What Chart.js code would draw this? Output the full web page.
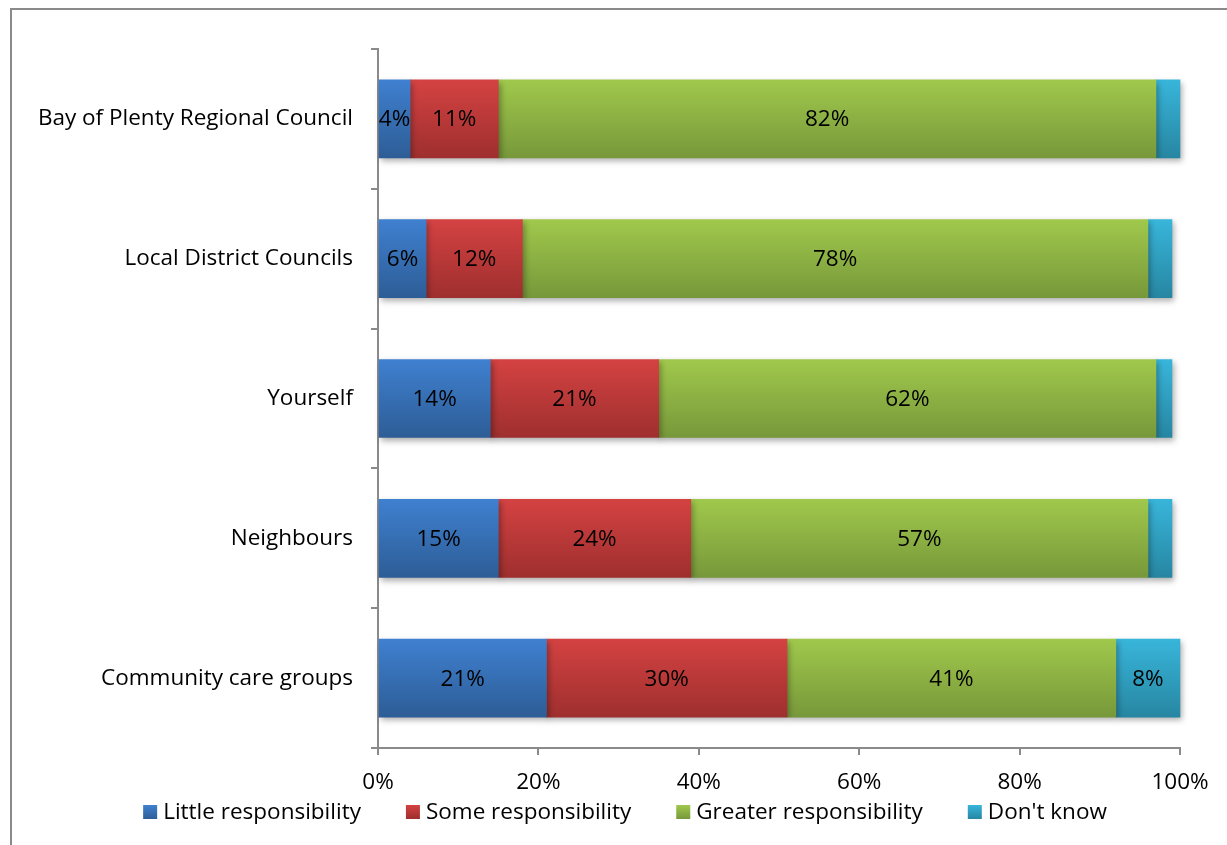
<!DOCTYPE html>
<html>
<head>
<meta charset="utf-8">
<script src="https://cdn.jsdelivr.net/npm/chart.js@4.4.1/dist/chart.umd.min.js"></script>
<style>
  html, body { margin: 0; padding: 0; background: #ffffff; }
  #wrap { width: 1227px; height: 845px; }
</style>
</head>
<body>
<div id="wrap"><canvas id="chart" width="1227" height="845"></canvas></div>
<script>
// Who should take responsibility, by group (percent of respondents)
const categories = [
  'Bay of Plenty Regional Council',
  'Local District Councils',
  'Yourself',
  'Neighbours',
  'Community care groups'
];
const seriesNames = ['Little responsibility', 'Some responsibility', 'Greater responsibility', "Don't know"];
const little   = [4, 6, 14, 15, 21];
const some     = [11, 12, 21, 24, 30];
const greater  = [82, 78, 62, 57, 41];
const dontKnow = [3, 3, 2, 3, 8];
const xTickStep = 20;

// top / bottom shades of each series gradient
const shades = [
  ['#3f80d0', '#2d5d96'],
  ['#d44242', '#9e2f2e'],
  ['#a0c84c', '#77983a'],
  ['#38b5da', '#2786a2']
];

const FONT = '"Open Sans", Lato, sans-serif';
const FS = 22.5;
const BAR = 78;

function barGradient(ctx, series) {
  const chart = ctx.chart;
  const y = chart.scales && chart.scales.y;
  if (!y || ctx.dataIndex === undefined || !chart.chartArea) return shades[series][0];
  const c = y.getPixelForValue(ctx.dataIndex);
  const g = chart.ctx.createLinearGradient(0, c - BAR / 2, 0, c + BAR / 2);
  g.addColorStop(0, shades[series][0]);
  g.addColorStop(1, shades[series][1]);
  return g;
}

const values = [little, some, greater, dontKnow];
const datasets = values.map((arr, i) => ({
  label: seriesNames[i],
  data: arr,
  backgroundColor: (ctx) => barGradient(ctx, i),
  borderWidth: 0,
  barThickness: BAR,
  clip: false
}));

// outer frame of the chart object
const framePlugin = {
  id: 'frame',
  beforeDraw(chart) {
    const c = chart.ctx;
    c.save();
    c.fillStyle = '#ffffff';
    c.fillRect(0, 0, chart.width, chart.height);
    c.strokeStyle = '#8a8a8a';
    c.lineWidth = 2;
    c.beginPath();
    c.moveTo(11, chart.height);
    c.lineTo(11, 9);
    c.lineTo(chart.width, 9);
    c.stroke();
    c.restore();
  }
};

// soft drop shadow under the bars and value labels inside each segment
const barDecor = {
  id: 'barDecor',
  beforeDatasetsDraw(chart) {
    const c = chart.ctx;
    c.save();
    c.shadowColor = 'rgba(0,0,0,0.32)';
    c.shadowBlur = 6;
    c.shadowOffsetX = 2;
    c.shadowOffsetY = 3;
  },
  afterDatasetsDraw(chart) {
    const c = chart.ctx;
    c.restore();
    c.save();
    c.font = FS + 'px ' + FONT;
    c.fillStyle = '#000000';
    c.textAlign = 'center';
    c.textBaseline = 'middle';
    chart.data.datasets.forEach((ds, di) => {
      const meta = chart.getDatasetMeta(di);
      meta.data.forEach((el, i) => {
        const v = ds.data[i];
        if (v < 4) return;
        const cx = (el.x + el.base) / 2;
        c.fillText(v + '%', cx, el.y + 1);
      });
    });
    c.restore();
  }
};

// single-row legend under the axis
const bottomLegend = {
  id: 'bottomLegend',
  afterDraw(chart) {
    const c = chart.ctx;
    c.save();
    c.font = FS + 'px ' + FONT;
    c.textBaseline = 'middle';
    c.textAlign = 'left';
    const box = 14, gap = 6, sep = 45;
    const widths = seriesNames.map(n => c.measureText(n).width);
    const total = widths.reduce((a, w) => a + box + gap + w, 0) + sep * (seriesNames.length - 1);
    let x = 625 - total / 2;
    const boxTop = 805, textY = 813;
    seriesNames.forEach((n, i) => {
      const g = c.createLinearGradient(0, boxTop, 0, boxTop + box);
      g.addColorStop(0, shades[i][0]);
      g.addColorStop(1, shades[i][1]);
      c.fillStyle = g;
      c.fillRect(x, boxTop, box, box);
      c.fillStyle = '#000000';
      c.fillText(n, x + box + gap, textY);
      x += box + gap + widths[i] + sep;
    });
    c.restore();
  }
};

new Chart(document.getElementById('chart'), {
  type: 'bar',
  data: { labels: categories, datasets },
  options: {
    indexAxis: 'y',
    responsive: false,
    animation: false,
    layout: { padding: { top: 49, right: 47, left: 0, bottom: 37 } },
    scales: {
      x: {
        stacked: true,
        min: 0,
        max: 100,
        afterFit(scale) { scale.height = 60; },
        ticks: {
          stepSize: xTickStep,
          callback: (v) => v + '%',
          color: '#000000',
          font: { family: FONT, size: FS },
          padding: 14,
          maxRotation: 0,
          autoSkip: false
        },
        grid: { drawOnChartArea: false, drawTicks: true, tickLength: 7, color: '#8a8a8a', lineWidth: 2 },
        border: { color: '#8a8a8a', width: 2 }
      },
      y: {
        stacked: true,
        afterFit(scale) { scale.width = 378; },
        ticks: {
          color: '#000000',
          font: { family: FONT, size: FS },
          padding: 18
        },
        grid: { drawOnChartArea: false, drawTicks: true, tickLength: 7, offset: true, color: '#8a8a8a', lineWidth: 2 },
        border: { color: '#8a8a8a', width: 2 }
      }
    },
    plugins: {
      tooltip: { enabled: false },
      legend: { display: false }
    }
  },
  plugins: [framePlugin, barDecor, bottomLegend]
});
</script>
</body>
</html>
